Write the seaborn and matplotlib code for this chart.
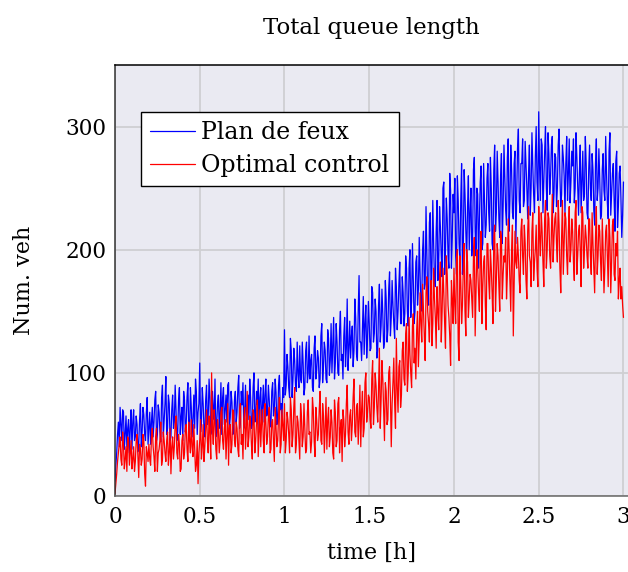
import numpy as np
import pandas as pd
import matplotlib
matplotlib.use("Agg")
import matplotlib.pyplot as plt
from matplotlib.lines import Line2D
import seaborn as sns

# samples at every 0.01 h (t = 0.00 ... 3.00)
time_a = [round(i * 0.01, 3) for i in range(301)]
# samples in between (t = 0.005 ... 2.995)
time_b = [round(i * 0.01 + 0.005, 3) for i in range(300)]

plan_de_feux_a = [
    12, 35, 60, 72, 45, 68, 50, 40, 62, 55,
    38, 70, 48, 58, 42, 75, 52, 66, 45, 80,
    55, 42, 72, 60, 85, 50, 68, 44, 90, 62,
    97, 55, 75, 48, 82, 60, 70, 52, 88, 64,
    45, 78, 58, 92, 50, 72, 62, 55, 85, 68,
    108, 60, 75, 48, 90, 65, 80, 55, 72, 95,
    58, 82, 66, 50, 88, 70, 60, 92, 64, 76,
    52, 85, 68, 98, 60, 74, 55, 90, 70, 62,
    80, 58, 100, 66, 74, 52, 88, 72, 60, 95,
    68, 78, 56, 92, 70, 84, 62, 98, 75, 88,
    135, 90, 105, 80, 118, 95, 110, 85, 100, 122,
    92, 108, 88, 125, 100, 95, 115, 85, 130, 102,
    112, 95, 140, 105, 118, 92, 128, 110, 100, 145,
    108, 125, 98, 150, 115, 130, 105, 160, 120, 112,
    138, 118, 145, 110, 179, 125, 135, 115, 155, 128,
    140, 120, 165, 132, 150, 118, 172, 138, 148, 125,
    160, 135, 182, 145, 155, 128, 170, 150, 190, 140,
    165, 148, 185, 138, 200, 158, 175, 150, 195, 168,
    180, 160, 215, 172, 195, 155, 230, 185, 205, 170,
    240, 190, 218, 178, 255, 200, 225, 185, 248, 210,
    230, 195, 260, 205, 240, 180, 265, 215, 235, 200,
    250, 210, 275, 195, 245, 225, 268, 205, 240, 220,
    270, 215, 250, 200, 285, 230, 255, 210, 278, 235,
    260, 220, 290, 240, 265, 225, 280, 245, 298, 230,
    270, 235, 288, 250, 262, 228, 295, 245, 275, 255,
    312, 240, 285, 255, 300, 232, 278, 260, 292, 245,
    275, 250, 298, 235, 285, 260, 270, 240, 290, 255,
    268, 238, 295, 250, 262, 230, 280, 245, 270, 225,
    285, 240, 265, 220, 290, 250, 258, 228, 278, 240,
    262, 225, 295, 245, 270, 215, 280, 235, 268, 210,
    255,
]

plan_de_feux_b = [
    25, 50, 40, 58, 70, 38, 65, 55, 35, 70,
    60, 45, 65, 36, 62, 40, 72, 50, 68, 42,
    68, 60, 48, 78, 45, 74, 52, 80, 48, 75,
    50, 82, 45, 70, 55, 90, 45, 78, 50, 72,
    85, 52, 80, 55, 88, 48, 82, 95, 50, 75,
    52, 88, 55, 78, 58, 95, 50, 85, 62, 48,
    75, 55, 92, 80, 58, 82, 90, 55, 85, 50,
    78, 60, 88, 55, 85, 92, 68, 58, 82, 95,
    55, 88, 60, 85, 95, 80, 58, 90, 82, 65,
    90, 60, 85, 65, 95, 58, 90, 70, 60, 80,
    82, 115, 88, 128, 80, 120, 90, 125, 88, 95,
    125, 82, 118, 92, 130, 110, 88, 120, 95, 118,
    88, 130, 92, 125, 95, 135, 98, 140, 122, 95,
    140, 100, 135, 110, 95, 145, 120, 102, 142, 130,
    105, 160, 115, 150, 125, 110, 162, 140, 112, 158,
    118, 170, 125, 160, 112, 155, 125, 168, 120, 175,
    125, 168, 130, 175, 140, 185, 135, 172, 140, 178,
    138, 195, 150, 185, 145, 205, 140, 190, 155, 210,
    150, 200, 168, 235, 160, 222, 165, 240, 175, 215,
    175, 235, 195, 250, 180, 242, 195, 262, 185, 245,
    258, 180, 240, 190, 270, 200, 245, 190, 260, 230,
    195, 265, 215, 250, 185, 255, 200, 270, 210, 258,
    230, 275, 205, 265, 215, 280, 225, 260, 205, 285,
    232, 275, 215, 285, 230, 270, 205, 282, 240, 270,
    290, 240, 270, 225, 285, 250, 268, 230, 300, 240,
    268, 290, 230, 280, 250, 295, 245, 285, 230, 278,
    235, 285, 260, 245, 275, 230, 292, 262, 238, 280,
    290, 250, 275, 228, 285, 255, 240, 292, 230, 265,
    250, 278, 232, 270, 240, 282, 225, 265, 248, 292,
    238, 280, 228, 262, 240, 272, 218, 262, 242, 228,
]

optimal_control_a = [
    2, 18, 35, 48, 25, 42, 30, 20, 45, 35,
    22, 40, 28, 50, 15, 38, 30, 45, 8, 35,
    42, 25, 55, 32, 48, 20, 38, 60, 30, 45,
    28, 52, 35, 18, 48, 40, 65, 30, 42, 22,
    50, 35, 58, 28, 45, 62, 32, 40, 25, 10,
    45, 30, 58, 40, 70, 35, 52, 100, 42, 60,
    30, 55, 45, 72, 38, 62, 48, 25, 58, 42,
    68, 40, 55, 32, 75, 50, 62, 38, 85, 48,
    58, 30, 65, 45, 78, 52, 40, 70, 35, 60,
    48, 72, 38, 62, 28, 55, 45, 80, 42, 58,
    75, 45, 62, 35, 70, 50, 88, 42, 60, 30,
    65, 48, 55, 38, 78, 52, 44, 70, 32, 62,
    50, 85, 42, 65, 55, 38, 72, 48, 60, 30,
    68, 45, 80, 55, 28, 62, 50, 90, 42, 70,
    58, 95, 48, 75, 62, 40, 85, 55, 100, 68,
    80, 55, 110, 72, 90, 60, 120, 78, 95, 45,
    85, 62, 105, 40, 92, 75, 128, 68, 110, 82,
    125, 90, 140, 100, 115, 88, 148, 120, 135, 105,
    165, 125, 150, 110, 178, 140, 160, 122, 185, 145,
    170, 135, 190, 150, 165, 120, 180, 145, 106, 160,
    185, 140, 200, 110, 175, 155, 205, 130, 190, 160,
    175, 145, 210, 165, 185, 150, 215, 170, 195, 135,
    205, 160, 185, 140, 220, 175, 195, 150, 210, 180,
    190, 160, 225, 175, 200, 130, 215, 185, 195, 165,
    225, 180, 205, 160, 235, 190, 215, 175, 200, 185,
    235, 195, 215, 170, 240, 200, 225, 185, 245, 210,
    230, 190, 220, 165, 240, 205, 225, 180, 235, 200,
    215, 175, 240, 195, 220, 170, 230, 200, 210, 185,
    225, 180, 205, 165, 235, 195, 215, 175, 200, 185,
    220, 170, 210, 190, 225, 175, 195, 160, 185, 170,
    145,
]

optimal_control_b = [
    10, 28, 42, 30, 52, 22, 40, 48, 25, 45,
    30, 20, 45, 32, 42, 25, 50, 18, 40, 28,
    30, 48, 40, 20, 55, 35, 45, 25, 52, 35,
    45, 25, 55, 40, 30, 58, 35, 50, 20, 45,
    30, 55, 38, 60, 35, 40, 58, 20, 45, 35,
    62, 40, 28, 55, 45, 65, 30, 55, 70, 38,
    62, 35, 68, 45, 55, 30, 75, 55, 35, 70,
    45, 60, 38, 70, 42, 30, 72, 55, 40, 65,
    42, 70, 35, 60, 32, 70, 60, 45, 75, 42,
    65, 35, 60, 45, 72, 40, 65, 35, 70, 45,
    35, 68, 50, 80, 40, 72, 35, 65, 45, 75,
    40, 75, 35, 68, 50, 35, 80, 45, 72, 45,
    70, 45, 75, 35, 80, 62, 40, 70, 35, 78,
    40, 75, 35, 62, 70, 40, 75, 52, 65, 45,
    80, 52, 72, 42, 90, 70, 48, 92, 60, 82,
    62, 95, 58, 100, 72, 88, 55, 110, 70, 92,
    58, 100, 80, 75, 112, 55, 88, 105, 72, 118,
    95, 132, 85, 145, 100, 138, 108, 95, 150, 128,
    140, 172, 130, 165, 150, 125, 175, 140, 160, 120,
    150, 178, 125, 185, 140, 195, 155, 130, 175, 140,
    155, 190, 125, 195, 140, 185, 150, 200, 145, 180,
    160, 195, 130, 200, 165, 195, 140, 190, 155, 205,
    175, 200, 165, 210, 150, 205, 170, 215, 160, 195,
    210, 180, 200, 150, 220, 170, 190, 210, 175, 215,
    195, 220, 175, 215, 195, 170, 230, 190, 220, 170,
    210, 230, 190, 225, 185, 230, 195, 215, 190, 225,
    205, 240, 185, 210, 180, 230, 195, 215, 190, 225,
    190, 230, 180, 215, 200, 235, 185, 220, 195, 225,
    195, 230, 185, 210, 180, 220, 190, 225, 165, 215,
    195, 225, 165, 220, 180, 205, 215, 175, 160, 155,
]

series_names = ["Plan de feux", "Optimal control"]
x_ticks = [0, 0.5, 1, 1.5, 2, 2.5, 3]
x_tick_labels = ["0", "0.5", "1", "1.5", "2", "2.5", "3"]
y_ticks = [0, 100, 200, 300]
y_tick_labels = ["0", "100", "200", "300"]

frames = []
for name, ta, va, tb, vb in [
    (series_names[0], time_a, plan_de_feux_a, time_b, plan_de_feux_b),
    (series_names[1], time_a, optimal_control_a, time_b, optimal_control_b),
]:
    d = pd.DataFrame({"time": ta + tb, "value": va + vb})
    d = d.sort_values("time")
    d["series"] = name
    frames.append(d)
df = pd.concat(frames, ignore_index=True)

sns.set_theme(style="darkgrid")
plt.rcParams["font.family"] = ["DejaVu Serif"]
plt.rcParams["mathtext.fontset"] = "dejavuserif"
plt.rcParams["text.color"] = "black"
plt.rcParams["axes.labelcolor"] = "black"
plt.rcParams["xtick.color"] = "black"
plt.rcParams["ytick.color"] = "black"

W, H = 628, 572
fig = plt.figure(figsize=(W / 100, H / 100), dpi=100)
left_px, right_px, top_px, bottom_px = 115, 627.7, 65, 496
ax = fig.add_axes([left_px / W, 1 - bottom_px / H,
                   (right_px - left_px) / W, (bottom_px - top_px) / H])
ax.set_facecolor("#eaeaf2")

sns.lineplot(data=df, x="time", y="value", hue="series",
             palette={series_names[0]: "#0000ff", series_names[1]: "#ff0000"},
             linewidth=0.9, ax=ax, legend=False, estimator=None, sort=False)

ax.set_xlim(0, 3.025)
ax.set_ylim(0, 350)
ax.set_xticks(x_ticks)
ax.set_xticklabels(x_tick_labels)
ax.set_yticks(y_ticks)
ax.set_yticklabels(y_tick_labels)
ax.grid(True, color="#cfcfd2", linewidth=1.3)

fs = 15.5
ax.tick_params(axis="both", direction="in", length=7, width=1.2, color="#8a8a8a",
               labelsize=fs, labelcolor="black", pad=6)
ax.tick_params(axis="x", pad=7)

for side in ["left", "bottom", "top"]:
    ax.spines[side].set_visible(True)
    ax.spines[side].set_linewidth(1.1)
ax.spines["left"].set_color("#333333")
ax.spines["bottom"].set_color("#666666")
ax.spines["top"].set_color("black")
ax.spines["right"].set_visible(False)

ax.set_title("Total queue length", fontsize=16.5, pad=22, color="black")
ax.set_xlabel("time [h]", fontsize=16, labelpad=10, color="black")
ax.set_ylabel("Num. veh", fontsize=16, labelpad=22, color="black")

handles = [Line2D([], [], color="#0000ff", linewidth=0.9),
           Line2D([], [], color="#ff0000", linewidth=0.9)]
leg = ax.legend(handles, series_names, loc="upper left",
                bbox_to_anchor=(141 / W, 1 - 112 / H), bbox_transform=fig.transFigure,
                fontsize=17, frameon=True, fancybox=False, framealpha=1,
                edgecolor="black", facecolor="white", handlelength=1.9,
                handletextpad=0.25, labelspacing=0.4, borderpad=0.4,
                borderaxespad=0)
leg.get_frame().set_linewidth(1.0)
for t in leg.get_texts():
    t.set_color("black")

fig.savefig("out.png", dpi=100)
